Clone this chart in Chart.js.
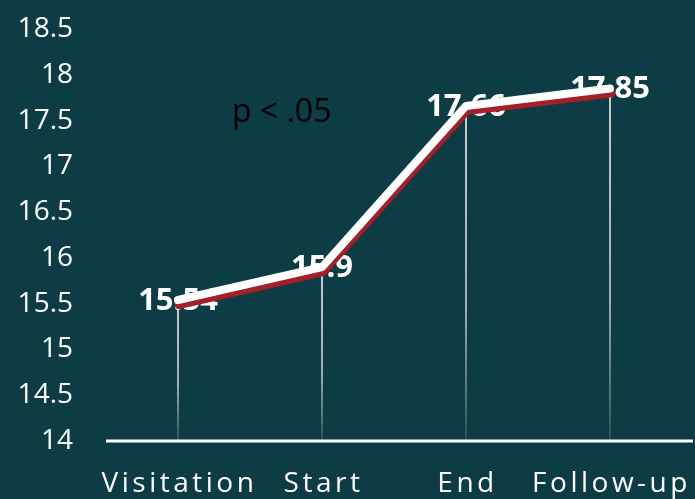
<!DOCTYPE html>
<html>
<head>
<meta charset="utf-8">
<script src="https://cdn.jsdelivr.net/npm/chart.js@4"></script>
<style>
html,body{margin:0;padding:0;background:#0e3c45;}
canvas{display:block;}
</style>
</head>
<body>
<canvas id="c" width="695" height="499"></canvas>
<script>
const categories = ["Visitation", "Start", "End", "Follow-up"];
const scores = [15.54, 15.9, 17.66, 17.85];
const yTicks = [14, 14.5, 15, 15.5, 16, 16.5, 17, 17.5, 18, 18.5];
const noteText = "p < .05";
const noteX = 0.72;   // category index position
const noteY = 17.58;  // value position

const RED = "#a3202a";

const deco = {
  id: "deco",
  beforeDatasetsDraw(chart) {
    const ctx = chart.ctx;
    const xs = chart.scales.x, ys = chart.scales.y;
    const bottom = chart.chartArea.bottom;
    scores.forEach((v, i) => {
      const px = xs.getPixelForValue(i);
      const py = ys.getPixelForValue(v);
      const g = ctx.createLinearGradient(0, py, 0, bottom);
      g.addColorStop(0, "rgba(255,255,255,0.95)");
      g.addColorStop(0.6, "rgba(255,255,255,0.75)");
      g.addColorStop(1, "rgba(255,255,255,0.15)");
      ctx.save();
      ctx.strokeStyle = g;
      ctx.lineWidth = 1.6;
      ctx.beginPath();
      ctx.moveTo(px, py);
      ctx.lineTo(px, bottom);
      ctx.stroke();
      ctx.restore();
    });
    ctx.save();
    ctx.fillStyle = "#ffffff";
    ctx.font = "bold 31px 'Open Sans'";
    ctx.textAlign = "center";
    ctx.textBaseline = "middle";
    scores.forEach((v, i) => {
      ctx.fillText(String(v), xs.getPixelForValue(i), ys.getPixelForValue(v) + 1);
    });
    ctx.fillStyle = "#000000";
    ctx.font = "32px 'Open Sans'";
    ctx.fillText(noteText, xs.getPixelForValue(noteX), ys.getPixelForValue(noteY));
    ctx.restore();
  },
  beforeDatasetDraw(chart, args) {
    if (args.index === 1) {
      chart.ctx.save();
      chart.ctx.translate(1, 5);
    }
  },
  afterDatasetDraw(chart, args) {
    if (args.index === 1) chart.ctx.restore();
  },
  afterDraw(chart) {
    const ctx = chart.ctx;
    const xs = chart.scales.x;
    const a = chart.chartArea;
    ctx.save();
    ctx.strokeStyle = "#ffffff";
    ctx.lineWidth = 3;
    ctx.beginPath();
    ctx.moveTo(a.left, a.bottom);
    ctx.lineTo(a.right + 11, a.bottom);
    ctx.stroke();
    ctx.fillStyle = "#ffffff";
    ctx.font = "28px 'Open Sans'";
    ctx.letterSpacing = "3.5px";
    ctx.textAlign = "center";
    ctx.textBaseline = "middle";
    categories.forEach((c, i) => {
      ctx.fillText(c, xs.getPixelForValue(i) + 1.5, a.bottom + 43);
    });
    ctx.restore();
  }
};

new Chart(document.getElementById("c"), {
  type: "line",
  data: {
    labels: categories,
    datasets: [
      { data: scores, borderColor: "#ffffff", borderWidth: 8, pointRadius: 0, tension: 0, borderCapStyle: "round", borderJoinStyle: "round" },
      { data: scores, borderColor: RED, borderWidth: 8, pointRadius: 0, tension: 0, borderCapStyle: "round", borderJoinStyle: "round" }
    ]
  },
  options: {
    responsive: false,
    animation: false,
    devicePixelRatio: 1,
    layout: { padding: { top: 29, right: 13, left: 0, bottom: 0 } },
    plugins: { legend: { display: false }, tooltip: { enabled: false } },
    scales: {
      x: {
        offset: true,
        grid: { display: false },
        border: { display: false },
        ticks: { display: false },
        afterFit(s) { s.height = 58; s.paddingLeft = 0; s.paddingRight = 0; }
      },
      y: {
        min: 14, max: 18.5,
        afterBuildTicks(s) { s.ticks = yTicks.map(v => ({ value: v })); },
        grid: { display: false },
        border: { display: false },
        ticks: { color: "#ffffff", font: { family: "'Open Sans'", size: 28 }, padding: 25, callback: (v) => String(v) },
        afterFit(s) { s.width = 106; s.paddingTop = 0; s.paddingBottom = 0; }
      }
    }
  },
  plugins: [deco]
});
</script>
</body>
</html>
